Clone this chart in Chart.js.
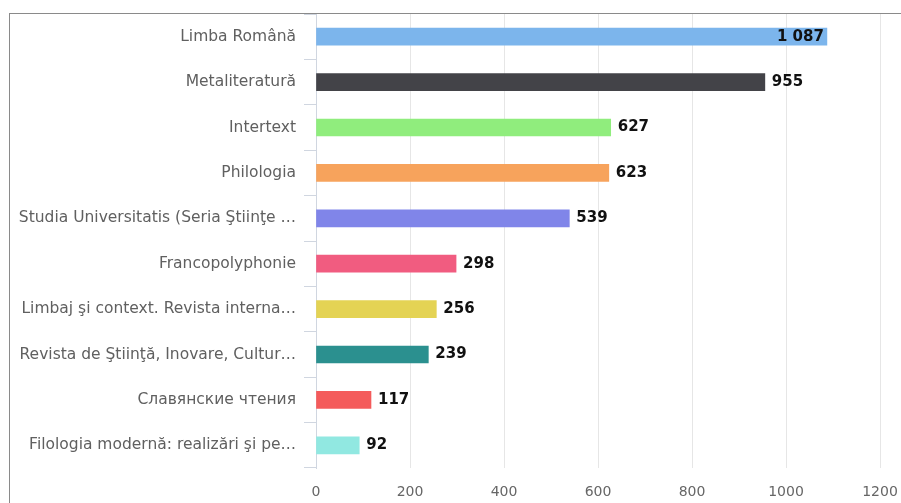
<!DOCTYPE html>
<html>
<head>
<meta charset="utf-8">
<script src="https://cdn.jsdelivr.net/npm/chart.js@4"></script>
<style>
  body { margin: 0; background: #fff; }
  #wrap { position: relative; width: 901px; height: 503px; }
  #frame { position: absolute; left: 9px; top: 13px; right: 0; bottom: 0;
           border-left: 1px solid #8a8a8a; border-top: 1px solid #8a8a8a; }
  canvas { position: absolute; left: 0; top: 0; }
</style>
</head>
<body>
<div id="wrap">
  <div id="frame"></div>
  <canvas id="c" width="901" height="503"></canvas>
</div>
<script>
// journal names and article counts
const journals = [
  'Limba Română',
  'Metaliteratură',
  'Intertext',
  'Philologia',
  'Studia Universitatis (Seria Ştiinţe …',
  'Francopolyphonie',
  'Limbaj şi context. Revista interna…',
  'Revista de Ştiinţă, Inovare, Cultur…',
  'Славянские чтения',
  'Filologia modernă: realizări şi pe…'
];
const counts = [1087, 955, 627, 623, 539, 298, 256, 239, 117, 92];
const barColors = ['#7cb5ec', '#434348', '#90ed7d', '#f7a35c', '#8085e9',
                   '#f15c80', '#e4d354', '#2b908f', '#f45b5b', '#91e8e1'];
const xTicks = [0, 200, 400, 600, 800, 1000, 1200];

// value labels next to (or inside) the bar ends
const valueLabels = {
  id: 'valueLabels',
  afterDatasetsDraw(chart) {
    const ctx = chart.ctx;
    const meta = chart.getDatasetMeta(0);
    ctx.save();
    ctx.font = 'bold 15px "DejaVu Sans"';
    ctx.fillStyle = '#111';
    ctx.textBaseline = 'middle';
    meta.data.forEach((bar, i) => {
      const txt = counts[i] >= 1000 ? String(counts[i]).replace(/\B(?=(\d{3})+$)/g, ' ') : String(counts[i]);
      const w = ctx.measureText(txt).width;
      if (bar.x + 6 + w > chart.chartArea.right - 50) {
        ctx.textAlign = 'right';
        ctx.fillText(txt, bar.x - 3, bar.y);
      } else {
        ctx.textAlign = 'left';
        ctx.fillText(txt, bar.x + 7, bar.y);
      }
    });
    ctx.restore();
  }
};

new Chart(document.getElementById('c'), {
  type: 'bar',
  data: {
    labels: journals,
    datasets: [{
      data: counts,
      backgroundColor: barColors,
      barThickness: 17
    }]
  },
  options: {
    indexAxis: 'y',
    responsive: false,
    animation: false,
    layout: { padding: { top: 14, right: 21, left: 0, bottom: 0 } },
    plugins: { legend: { display: false }, tooltip: { enabled: false } },
    scales: {
      x: {
        min: 0, max: 1200,
        afterBuildTicks(scale) { scale.ticks = xTicks.map(v => ({ value: v })); },
        afterFit(scale) { scale.height = 35; scale.paddingRight = 0; },
        grid: { color: '#e6e6e6', drawTicks: false },
        border: { display: false },
        ticks: {
          color: '#666', font: { family: 'DejaVu Sans', size: 14 }, padding: 16,
          callback: v => String(v)
        }
      },
      y: {
        afterFit(scale) { scale.width = 316; scale.paddingTop = 0; scale.paddingBottom = 0; },
        grid: { drawOnChartArea: false, drawTicks: true, tickLength: 12, color: '#d0d6e0' },
        border: { display: true, color: '#d0d6e0' },
        ticks: { color: '#606060', font: { family: 'DejaVu Sans', size: 15.5 }, padding: 8 }
      }
    }
  },
  plugins: [valueLabels]
});
</script>
</body>
</html>
